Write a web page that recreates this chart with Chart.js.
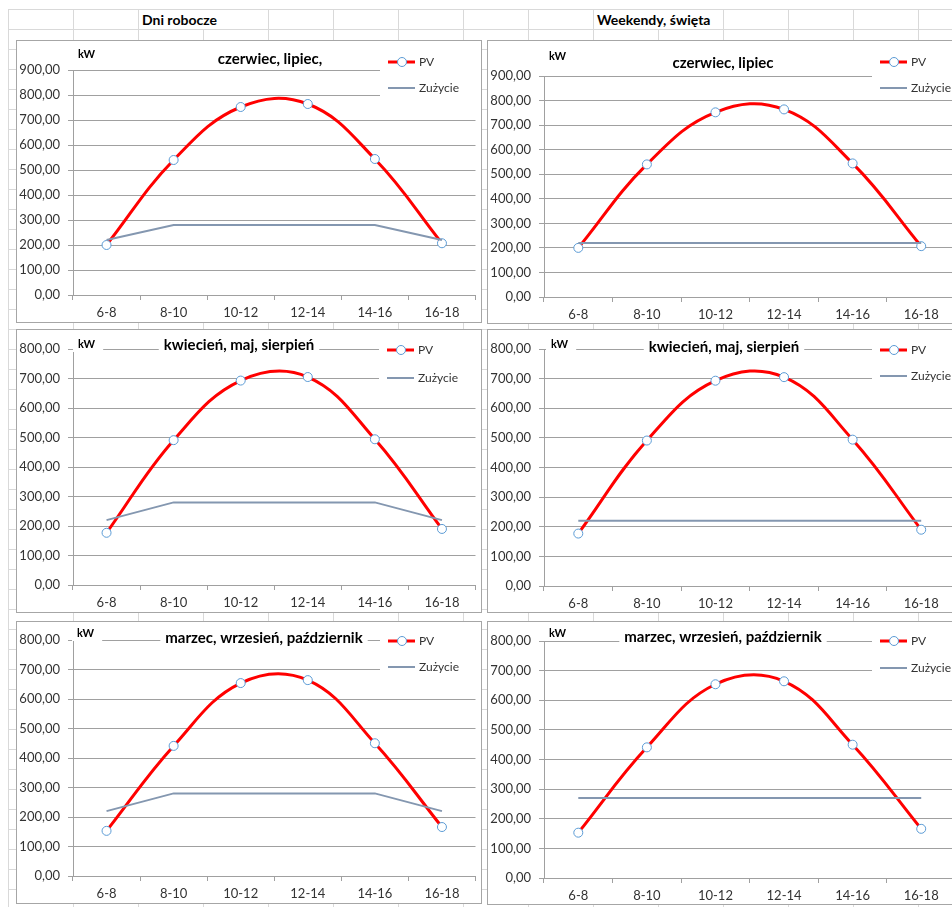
<!DOCTYPE html>
<html lang="pl">
<head>
<meta charset="utf-8" />
<title>PV i zużycie</title>
<script src="https://cdn.jsdelivr.net/npm/chart.js@4.4.0/dist/chart.umd.min.js"></script>
<style>
	html, body { margin: 0; padding: 0; }
	body {
		width: 952px; height: 907px; overflow: hidden; position: relative;
		background: #fff; font-family: Lato, sans-serif;
	}
	.sheet {
		position: absolute; left: 8px; top: 9px; right: 0; bottom: 0;
		background-image:
			linear-gradient(to right, #d9d9d9 1px, transparent 1px),
			linear-gradient(to bottom, #d9d9d9 1px, transparent 1px);
		background-size: 65px 20px;
	}
	.head {
		position: absolute; top: 10px; height: 19px; width: 126px; padding-left: 3px;
		background: #fff; font-weight: bold; font-size: 14px; line-height: 19px; color: #000;
	}
	.box { position: absolute; border: 1px solid #a6a6a6; background: #fff; }
	.box canvas { display: block; }
</style>
</head>
<body>
	<div class="sheet"></div>
	<div class="head" style="left:139px">Dni robocze</div>
	<div class="head" style="left:594px">Weekendy, święta</div>

	<div class="box" style="left:16px;top:40px;width:464px;height:281px"><canvas id="c1" width="464" height="281"></canvas></div>
	<div class="box" style="left:487px;top:40px;width:473px;height:282px"><canvas id="c2" width="473" height="282"></canvas></div>
	<div class="box" style="left:16px;top:329px;width:464px;height:282px"><canvas id="c3" width="464" height="282"></canvas></div>
	<div class="box" style="left:487px;top:329px;width:473px;height:282px"><canvas id="c4" width="473" height="282"></canvas></div>
	<div class="box" style="left:16px;top:621px;width:464px;height:281px"><canvas id="c5" width="464" height="281"></canvas></div>
	<div class="box" style="left:487px;top:621px;width:473px;height:282px"><canvas id="c6" width="473" height="282"></canvas></div>

<script>
	const categories = ['6-8', '8-10', '10-12', '12-14', '14-16', '16-18'];

	// PV (kW)
	const pvCzerwiecLipiec = [200, 540, 752, 764, 544, 207];
	const pvKwiecienMajSierpien = [177, 491, 693, 705, 494, 190];
	const pvMarzecWrzesienPazdziernik = [153, 441, 654, 664, 450, 166];

	// Zużycie (kW)
	const zuzycieRobocze = [220, 280, 280, 280, 280, 220];
	const zuzycieWeekendLato = [220, 220, 220, 220, 220, 220];
	const zuzycieWeekendWiosna = [220, 220, 220, 220, 220, 220];
	const zuzycieWeekendJesien = [270, 270, 270, 270, 270, 270];

	const gridColor = '#a0a0a0';
	const textColor = '#333333';
	Chart.defaults.font.family = 'Lato';

	// tytul, "kW" i legenda rysowane na bialym tle, jak w Excelu
	const excelLabels = {
		id: 'excelLabels',
		afterDraw(chart, args, o) {
			const ctx = chart.ctx;
			ctx.save();
			ctx.textBaseline = 'middle';
			ctx.textAlign = 'left';

			ctx.font = 'bold 11px Lato';
			let w = ctx.measureText('kW').width;
			ctx.fillStyle = '#fff';
			ctx.fillRect(o.kwX - 5, o.kwY - 8, w + 13, 16);
			ctx.fillStyle = '#000';
			ctx.fillText('kW', o.kwX, o.kwY);

			ctx.font = 'bold 15px Lato';
			w = ctx.measureText(o.text).width;
			ctx.fillStyle = '#fff';
			ctx.fillRect(o.titleX - w / 2 - 5, o.titleY - 10, w + 10, 20);
			ctx.fillStyle = '#000';
			ctx.textAlign = 'center';
			ctx.fillText(o.text, o.titleX, o.titleY);

			ctx.fillStyle = '#fff';
			ctx.fillRect(o.legX - 8, o.legY - 12, 98, o.legGap + 24);
			ctx.textAlign = 'left';
			ctx.font = '12px Lato';
			chart.data.datasets.forEach((ds, i) => {
				const y = o.legY + i * o.legGap;
				ctx.strokeStyle = ds.borderColor;
				ctx.lineWidth = ds.borderWidth;
				ctx.beginPath();
				ctx.moveTo(o.legX, y);
				ctx.lineTo(o.legX + 27, y);
				ctx.stroke();
				if (ds.pointRadius > 0) {
					ctx.beginPath();
					ctx.arc(o.legX + 14, y, ds.pointRadius, 0, Math.PI * 2);
					ctx.fillStyle = ds.pointBackgroundColor;
					ctx.fill();
					ctx.lineWidth = ds.pointBorderWidth;
					ctx.strokeStyle = ds.pointBorderColor;
					ctx.stroke();
				}
				ctx.fillStyle = textColor;
				ctx.fillText(ds.label, o.legX + 31, y);
			});
			ctx.restore();
		}
	};

	function makeChart(id, pv, use, yMax, box, labels) {
		const canvas = document.getElementById(id);
		return new Chart(canvas.getContext('2d'), {
			type: 'line',
			data: {
				labels: categories,
				datasets: [{
					label: 'PV',
					data: pv,
					borderColor: '#ff0000',
					borderWidth: 3,
					tension: 0.4,
					pointRadius: 4.5,
					pointBackgroundColor: '#ffffff',
					pointBorderColor: '#5b9bd5',
					pointBorderWidth: 1,
					order: 1
				}, {
					label: 'Zużycie',
					data: use,
					borderColor: '#8497b0',
					borderWidth: 2,
					tension: 0,
					pointRadius: 0,
					order: 0
				}]
			},
			options: {
				responsive: false,
				animation: false,
				layout: { padding: { top: box.top, right: box.right, left: 0, bottom: 0 } },
				plugins: {
					legend: { display: false },
					title: { display: false },
					tooltip: { enabled: false },
					excelLabels: labels
				},
				scales: {
					x: {
						offset: true,
						grid: { offset: true, drawOnChartArea: false, tickLength: 5, color: gridColor },
						border: { display: true, color: gridColor },
						ticks: { color: textColor, font: { size: 13 }, padding: 5, maxRotation: 0, autoSkip: false },
						afterFit: s => { s.height = canvas.height - box.bottom; }
					},
					y: {
						min: 0,
						max: yMax,
						ticks: {
							stepSize: 100,
							color: textColor,
							font: { size: 13 },
							padding: 8,
							callback: v => v.toFixed(2).replace('.', ',')
						},
						grid: { color: gridColor, tickLength: 5 },
						border: { display: true, color: gridColor },
						afterFit: s => { s.width = 56; }
					}
				}
			},
			plugins: [excelLabels]
		});
	}

	makeChart('c1', pvCzerwiecLipiec, zuzycieRobocze, 900,
		{ top: 29, right: 5, bottom: 254 },
		{ text: 'czerwiec, lipiec,', titleX: 253, titleY: 18, kwX: 61, kwY: 13, legX: 371, legY: 21, legGap: 26 });
	makeChart('c2', pvCzerwiecLipiec, zuzycieWeekendLato, 900,
		{ top: 35, right: 4, bottom: 256 },
		{ text: 'czerwiec, lipiec', titleX: 235, titleY: 22, kwX: 61, kwY: 15, legX: 392, legY: 21, legGap: 26 });
	makeChart('c3', pvKwiecienMajSierpien, zuzycieRobocze, 800,
		{ top: 19, right: 5, bottom: 255 },
		{ text: 'kwiecień, maj, sierpień', titleX: 222, titleY: 15, kwX: 61, kwY: 14, legX: 370, legY: 20, legGap: 28 });
	makeChart('c4', pvKwiecienMajSierpien, zuzycieWeekendWiosna, 800,
		{ top: 19, right: 4, bottom: 256 },
		{ text: 'kwiecień, maj, sierpień', titleX: 236, titleY: 17, kwX: 63, kwY: 14, legX: 392, legY: 20, legGap: 26 });
	makeChart('c5', pvMarzecWrzesienPazdziernik, zuzycieRobocze, 800,
		{ top: 18, right: 5, bottom: 254 },
		{ text: 'marzec, wrzesień, październik', titleX: 247, titleY: 16, kwX: 60, kwY: 11, legX: 371, legY: 19, legGap: 26 });
	makeChart('c6', pvMarzecWrzesienPazdziernik, zuzycieWeekendJesien, 800,
		{ top: 19, right: 4, bottom: 256 },
		{ text: 'marzec, wrzesień, październik', titleX: 235, titleY: 15, kwX: 61, kwY: 11, legX: 392, legY: 19, legGap: 27 });
</script>
</body>
</html>
